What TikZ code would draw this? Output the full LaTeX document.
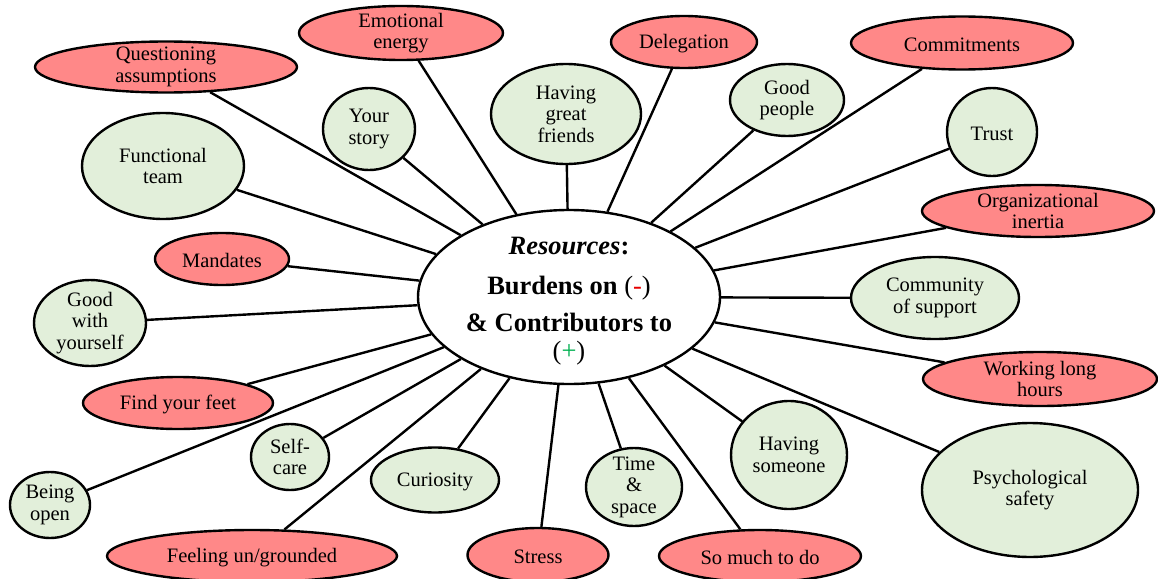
\documentclass[tikz,border=0pt]{standalone}
\usepackage{fontspec}
\setmainfont{Liberation Serif}
\usetikzlibrary{shapes.geometric}

\definecolor{burden}{RGB}{255,136,136}
\definecolor{contrib}{RGB}{226,239,218}
\definecolor{minusred}{RGB}{230,0,0}
\definecolor{plusgreen}{RGB}{0,176,80}

\tikzset{
  bubble/.style={ellipse, draw=black, line width=2.4pt, inner sep=-40pt,
    align=center, font=\fontsize{20.5}{21.5}\selectfont},
  burdenbox/.style={bubble, fill=burden, execute at begin node={\rule{0pt}{18pt}}},
  contribbox/.style={bubble, fill=contrib, execute at begin node={\rule{0pt}{18pt}}},
  sz/.style 2 args={minimum width=#1pt, minimum height=#2pt},
  link/.style={line width=2.4pt, black}
}

\begin{document}
\begin{tikzpicture}[x=1pt,y=-1pt]
\useasboundingbox (0,0) rectangle (1158,578);

% central hub
\node[bubble, fill=white, sz={302}{174}, font=\fontsize{26.5}{28}\selectfont] (hub) at (569,297)
  {\rule{0pt}{26pt}\textbf{\textit{Resources}:}\\[12pt]
   \textbf{Burdens on} (\textcolor{minusred}{-})\\[9pt]
   \textbf{\& Contributors to}\\
   (\textcolor{plusgreen}{+})};

% burdens
\node[burdenbox, sz={262}{51}] (qa) at (166,67) {Questioning\\assumptions};
\node[burdenbox, sz={204}{54}] (ee) at (401,33) {Emotional\\energy};
\node[burdenbox, sz={146}{52}] (de) at (684,42) {Delegation};
\node[burdenbox, sz={222}{53}] (cm) at (962,43) {Commitments};
\node[burdenbox, sz={232}{52}] (oi) at (1038,211) {Organizational\\inertia};
\node[burdenbox, sz={134}{52}] (ma) at (222,259) {Mandates};
\node[burdenbox, sz={234}{54}] (wl) at (1040,379) {Working long\\hours};
\node[burdenbox, sz={190}{52}] (fy) at (178,403) {Find your feet};
\node[burdenbox, sz={290}{52}] (fg) at (252,556) {Feeling un/grounded};
\node[burdenbox, sz={141}{54}] (st) at (538,555) {Stress};
\node[burdenbox, sz={202}{52}] (sm) at (760,556) {So much to do};

% contributors
\node[contribbox, sz={92}{82}]   (ys) at (369,129) {Your\\story};
\node[contribbox, sz={150}{100}] (hf) at (566,114) {Having\\great\\friends};
\node[contribbox, sz={114}{72}]  (gp) at (787,100) {Good\\people};
\node[contribbox, sz={90}{88}]   (tr) at (992,132) {Trust};
\node[contribbox, sz={162}{106}] (ft) at (163,166) {Functional\\team};
\node[contribbox, sz={112}{86}]  (gw) at (90,323) {Good\\with\\yourself};
\node[contribbox, sz={168}{82}]  (cs) at (935,298) {Community\\of support};
\node[contribbox, sz={78}{66}]   (sc) at (290,457) {Self-\\care};
\node[contribbox, sz={80}{66}]   (bo) at (50,505) {Being\\open};
\node[contribbox, sz={128}{65}]  (cu) at (435,480) {Curiosity};
\node[contribbox, sz={96}{78}]   (ts) at (634,487) {Time\\\&\\space};
\node[contribbox, sz={116}{108}] (hs) at (789,455) {Having\\someone};
\node[contribbox, sz={216}{134}] (ps) at (1030,490) {Psychological\\safety};

% spokes
\foreach \n in {qa,ee,de,cm,oi,ma,wl,fy,fg,st,sm,ys,hf,gp,tr,ft,gw,cs,sc,bo,cu,ts,hs,ps}
  \draw[link] (hub) -- (\n);
\end{tikzpicture}
\end{document}
